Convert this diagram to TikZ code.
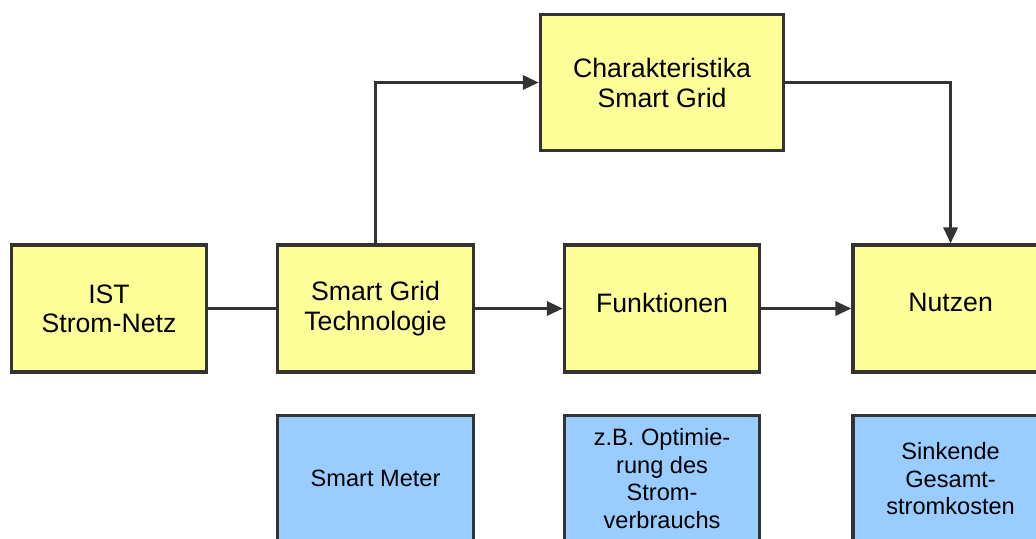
\documentclass[tikz,border=0pt]{standalone}
\usepackage{fontspec}
\setsansfont{Liberation Sans}
\usetikzlibrary{positioning,arrows.meta}
\definecolor{cBox}{HTML}{FFFF99}
\definecolor{cNote}{HTML}{99CCFF}
\definecolor{cInk}{HTML}{333333}

\begin{document}
\begin{tikzpicture}[
  font=\sffamily\fontsize{20}{22}\selectfont,
  >={Triangle[length=12pt, width=10.5pt]},
  base/.style={draw=cInk, line width=2.4pt, align=center, inner sep=4pt,
               text=black},
  main/.style={base, fill=cBox, minimum width=146.5pt, minimum height=95.25pt},
  head/.style={base, fill=cBox, minimum width=182.5pt, minimum height=102.5pt,
               font=\sffamily\fontsize{20}{22.5}\selectfont},
  note/.style={base, fill=cNote, minimum width=146.5pt, minimum height=95.25pt,
               font=\sffamily\fontsize{17.7}{20.6}\selectfont},
  link/.style={draw=cInk, line width=2.4pt},
  flow/.style={->, link}]

\useasboundingbox (0,0) rectangle (777pt,-404.25pt);

% ---------- main row ----------
\node[main] (ist) at (81.75pt,-231.4pt) {IST\\Strom-Netz};
\node[main, right=51pt of ist] (tech) {Smart Grid\\Technologie};
\node[main, text depth=9pt, right=66pt of tech] (funk) {Funktionen};
\node[main, text depth=9pt, right=67.5pt of funk] (nutzen) {Nutzen};

% ---------- top ----------
\node[head, above=68.25pt of funk] (char) {Charakteristika\\Smart Grid};

% ---------- examples ----------
\node[note, below=30pt of tech] (meter) {Smart Meter};
\node[note, below=30pt of funk] (optim) {z.B. Optimie-\\rung des\\Strom-\\verbrauchs};
\node[note, below=30pt of nutzen] (kosten) {Sinkende\\Gesamt-\\stromkosten};

% ---------- edges ----------
\draw[link] (ist) -- (tech);
\draw[flow] (tech) -- (funk);
\draw[flow] (funk) -- (nutzen);
\draw[flow] (tech.north) |- (char.west);
\draw[flow] (char.east) -| (nutzen.north);
\end{tikzpicture}
\end{document}
